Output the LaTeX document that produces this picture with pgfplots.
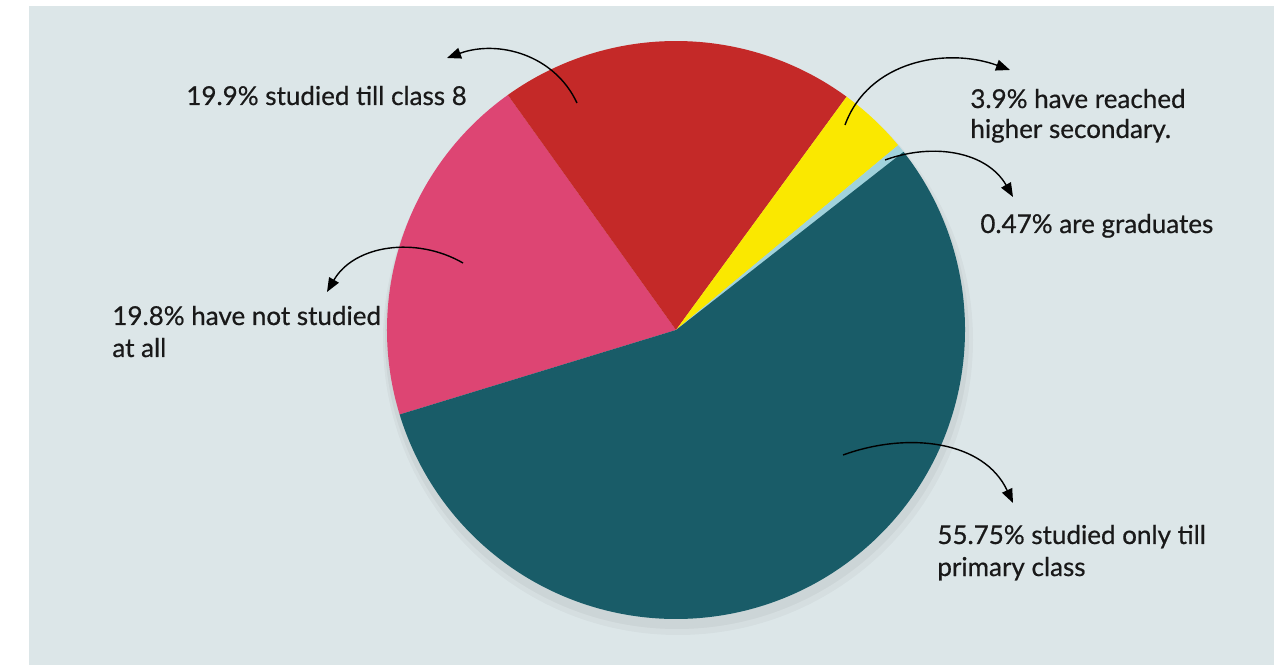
\documentclass[border=0pt]{standalone}
\usepackage{pgfplots}
\pgfplotsset{compat=1.18}
\usepackage{pgfplotstable}
\usepackage{fontspec}
\setmainfont{Lato}
\newfontfamily\lbl{Lato}[UprightFeatures={FakeBold=0.6}]
\usetikzlibrary{arrows.meta}
\definecolor{bg}{HTML}{DCE6E8}
\definecolor{cpink}{HTML}{DD4573}
\definecolor{cred}{HTML}{C42928}
\definecolor{cyellow}{HTML}{FAE800}
\definecolor{cgrad}{HTML}{A0D2DC}
\definecolor{cteal}{HTML}{195C68}
\pgfplotstableread{
share col
19.8 cpink
19.9 cred
3.9 cyellow
0.47 cgrad
55.75 cteal
}\pietable
\begin{document}
\begin{tikzpicture}
\begin{axis}[hide axis, scale only axis, width=640.5pt, height=332.5pt,
  xmin=0, xmax=1281, ymin=0, ymax=665, clip=false]
\addplot[draw=none] coordinates {(0,0) (1281,665)};
\fill[white] (axis cs:0,0) rectangle (axis cs:1281,665);
\fill[bg] (axis cs:29,0) rectangle (axis cs:1274,659);
% soft shadow
\fill[black, opacity=0.03] (axis cs:678,325) circle[radius=147.5pt];
\fill[black, opacity=0.04] (axis cs:677,328) circle[radius=146pt];
\pgfplotsextra{%
  \pgfmathsetmacro\total{99.82}%
  \xdef\curang{197}%
  \foreach \i in {0,...,4}{%
    \pgfplotstablegetelem{\i}{share}\of\pietable \let\sv\pgfplotsretval
    \pgfplotstablegetelem{\i}{col}\of\pietable \let\scol\pgfplotsretval
    \pgfmathsetmacro\endang{\curang - \sv/\total*360}%
    \fill[\scol] (axis cs:676,335) -- ++(\curang:144.5pt) arc[start angle=\curang, end angle=\endang, radius=144.5pt] -- cycle;
    \xdef\curang{\endang}%
  }%
}
% arrows
\begin{scope}[line width=0.7pt, -{Triangle[length=7pt,width=5.5pt]}]
\draw (axis cs:577,562) to[out=115, in=20] (axis cs:447,607);
\draw (axis cs:845,540) to[out=70, in=160] (axis cs:1010,595);
\draw (axis cs:885,505) to[out=20, in=120] (axis cs:1013,468);
\draw (axis cs:463,402) to[out=150, in=60] (axis cs:327,373);
\draw (axis cs:843,210) to[out=20, in=115] (axis cs:1013,162);
\end{scope}
% labels
\begin{scope}[every node/.style={anchor=base west, inner sep=0pt, font=\lbl\fontsize{13}{16}\selectfont, text=black!90}]
\node at (axis cs:186,560) {19.9\% studied till class 8};
\node at (axis cs:970,557) {3.9\% have reached};
\node at (axis cs:970,527) {higher secondary.};
\node at (axis cs:980,432) {0.47\% are graduates};
\node at (axis cs:112,340) {19.8\% have not studied};
\node at (axis cs:112,308) {at all};
\node at (axis cs:937,121) {55.75\% studied only till};
\node at (axis cs:937,89) {primary class};
\end{scope}
\end{axis}
\end{tikzpicture}
\end{document}
